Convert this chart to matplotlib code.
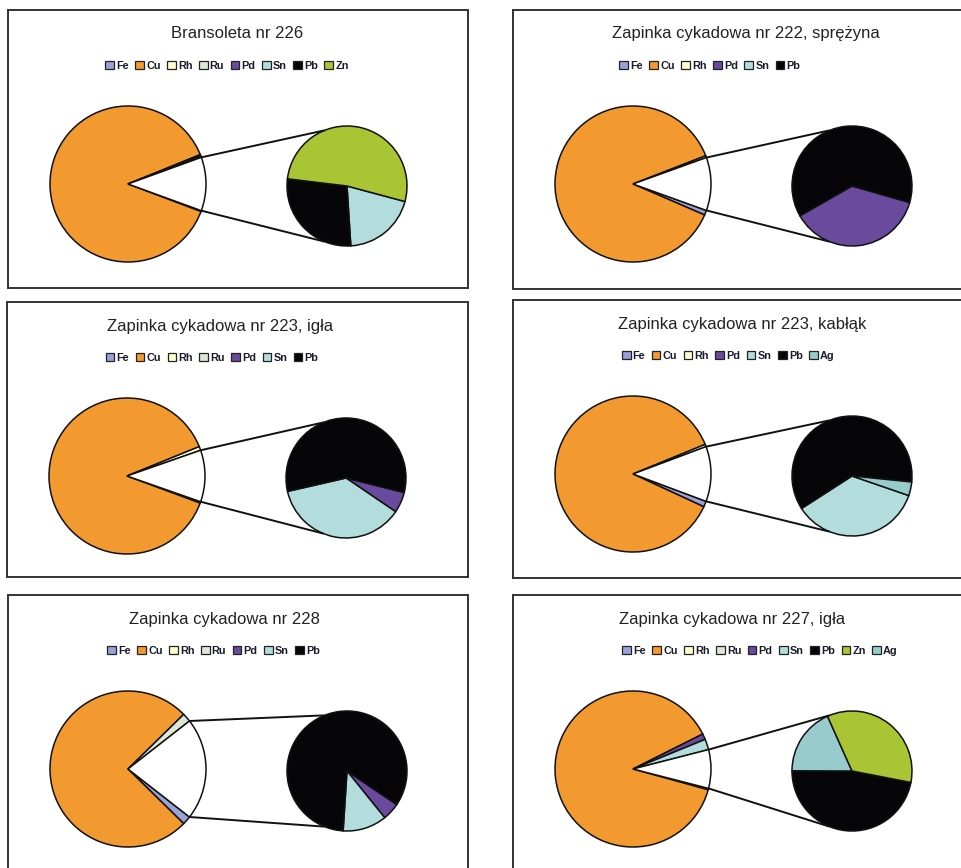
import numpy as np
import matplotlib
matplotlib.use("Agg")
import matplotlib.pyplot as plt
from matplotlib.patches import Patch

plt.rcParams['font.family'] = ['Liberation Sans', 'DejaVu Sans']

# chart data (percent composition)
titles = ['Bransoleta nr 226',
          'Zapinka cykadowa nr 222, sprężyna',
          'Zapinka cykadowa nr 223, igła',
          'Zapinka cykadowa nr 223, kabłąk',
          'Zapinka cykadowa nr 228',
          'Zapinka cykadowa nr 227, igła']

legend_sets = [['Fe', 'Cu', 'Rh', 'Ru', 'Pd', 'Sn', 'Pb', 'Zn'],
               ['Fe', 'Cu', 'Rh', 'Pd', 'Sn', 'Pb'],
               ['Fe', 'Cu', 'Rh', 'Ru', 'Pd', 'Sn', 'Pb'],
               ['Fe', 'Cu', 'Rh', 'Pd', 'Sn', 'Pb', 'Ag'],
               ['Fe', 'Cu', 'Rh', 'Ru', 'Pd', 'Sn', 'Pb'],
               ['Fe', 'Cu', 'Rh', 'Ru', 'Pd', 'Sn', 'Pb', 'Zn', 'Ag']]

# first pie
main_elements = [['Fe', 'Cu', 'Rh', 'Ru'],
                 ['Fe', 'Cu', 'Rh'],
                 ['Fe', 'Cu', 'Rh', 'Ru'],
                 ['Fe', 'Cu', 'Rh'],
                 ['Fe', 'Cu', 'Rh', 'Ru'],
                 ['Fe', 'Cu', 'Rh', 'Ru', 'Pd', 'Sn']]
main_values = [[0.2, 88.1, 0.3, 0.3],
               [1.0, 87.6, 0.4],
               [0.3, 88.2, 0.8, 0.0],
               [1.2, 86.9, 0.5],
               [1.8, 75.3, 0.0, 1.8],
               [0.3, 88.3, 0.0, 0.0, 1.2, 2.2]]

# second pie (the split-off "other" part)
split_elements = [['Pd', 'Sn', 'Pb', 'Zn'],
                  ['Pd', 'Sn', 'Pb'],
                  ['Pd', 'Sn', 'Pb'],
                  ['Pd', 'Sn', 'Pb', 'Ag'],
                  ['Pd', 'Sn', 'Pb'],
                  ['Pb', 'Ag', 'Zn']]
split_values = [[0.0, 2.2, 3.1, 5.8],
                [4.1, 0.0, 6.9],
                [0.6, 3.95, 6.15],
                [0.0, 4.06, 6.92, 0.42],
                [1.0, 2.5, 17.6],
                [3.76, 1.46, 2.78]]

colors = {'Fe': '#98A2D8', 'Cu': '#F29A30', 'Rh': '#FFFFD0', 'Ru': '#DCE8D6',
          'Pd': '#6A4A9C', 'Sn': '#B2DDDC', 'Pb': '#060608', 'Zn': '#A9C534',
          'Ag': '#98CCCC'}

# layout (pixels): box x, y, w, h ; title x, legend x (axes fraction) ; 2nd pie start
boxes = [(8, 10, 460, 278), (513, 10, 460, 279),
         (7, 302, 461, 275), (513, 300, 460, 278),
         (8, 595, 460, 290), (513, 595, 460, 290)]
title_x = [0.498, 0.507, 0.462, 0.498, 0.47, 0.476]
legend_x = [0.476, 0.428, 0.445, 0.468, 0.447, 0.537]
split_start = [-15, -16, -14, -19, -34, -11]

W, H = 962, 868
fig = plt.figure(figsize=(W / 100, H / 100), dpi=100)

r1, r2 = 78, 60
edge = dict(edgecolor='#111111', linewidth=1.1)

for i in range(6):
    x0, y0, w, h = boxes[i]
    ax = fig.add_axes([x0 / W, 1 - (y0 + h) / H, w / W, h / H])
    c1 = (120, h - 174)
    c2 = (339, h - 176)

    other = sum(split_values[i])
    other_deg = other / 100 * 360

    # first pie: small parts, copper, then white "other" wedge centred on the right
    vals = [v for v in main_values[i] if v > 0] + [other]
    cols = [colors[e] for e, v in zip(main_elements[i], main_values[i]) if v > 0] + ['white']
    ax.pie(vals, colors=cols, startangle=-other_deg / 2, counterclock=False,
           center=c1, radius=r1, wedgeprops=edge, frame=True)

    # second pie
    vals2 = [v for v in split_values[i] if v > 0]
    cols2 = [colors[e] for e, v in zip(split_elements[i], split_values[i]) if v > 0]
    ax.pie(vals2, colors=cols2, startangle=split_start[i], counterclock=False,
           center=c2, radius=r2, wedgeprops=edge, frame=True)

    # connector lines
    for s in (1, -1):
        a = np.deg2rad(s * other_deg / 2)
        b = np.deg2rad(s * 112)
        ax.plot([c1[0] + r1 * np.cos(a), c2[0] + r2 * np.cos(b)],
                [c1[1] + r1 * np.sin(a), c2[1] + r2 * np.sin(b)],
                color='#111111', lw=1.4, solid_capstyle='butt')

    ax.set_xlim(0, w)
    ax.set_ylim(0, h)
    ax.set_aspect('auto')
    ax.set_xticks([])
    ax.set_yticks([])
    for sp in ax.spines.values():
        sp.set_color('#333333')
        sp.set_linewidth(1.4)

    ax.text(title_x[i], 1 - 24 / h, titles[i], transform=ax.transAxes,
            ha='center', va='center', fontsize=12, color='#222222')

    handles = [Patch(facecolor=colors[e], edgecolor='#222222', linewidth=0.9)
               for e in legend_sets[i]]
    ax.legend(handles, legend_sets[i], loc='center', ncol=len(handles),
              bbox_to_anchor=(legend_x[i], 1 - 56 / h), frameon=False,
              prop=dict(size=7.8, weight='bold'), handlelength=0.8, handleheight=0.8,
              handletextpad=0.2, columnspacing=0.6, borderpad=0,
              labelcolor='#1a1a2a')

fig.savefig('out.png', dpi=100, facecolor='white')
